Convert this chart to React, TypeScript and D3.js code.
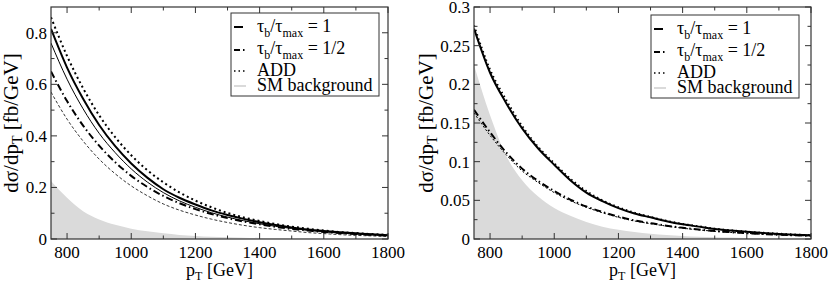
import React from 'react';
import * as d3 from 'd3';

// transverse momentum grid (GeV)
const ptGrid = [750, 800, 850, 900, 950, 1000, 1050, 1100, 1150, 1200, 1250, 1300, 1350, 1400, 1450, 1500, 1550, 1600, 1650, 1700, 1750, 1800];

// left panel, fb/GeV
const leftTau1 = [0.815, 0.665, 0.544, 0.442, 0.36, 0.293, 0.238, 0.193, 0.16, 0.134, 0.111, 0.093, 0.078, 0.065, 0.054, 0.045, 0.037, 0.031, 0.026, 0.022, 0.018, 0.015];
const leftTau1Thin = [0.76, 0.62, 0.505, 0.41, 0.335, 0.272, 0.221, 0.18, 0.148, 0.123, 0.102, 0.085, 0.071, 0.059, 0.049, 0.041, 0.034, 0.028, 0.023, 0.019, 0.016, 0.013];
const leftTauHalf = [0.65, 0.535, 0.44, 0.362, 0.298, 0.245, 0.202, 0.167, 0.139, 0.116, 0.097, 0.081, 0.068, 0.057, 0.047, 0.039, 0.033, 0.027, 0.023, 0.019, 0.016, 0.013];
const leftTauHalfThin = [0.57, 0.465, 0.38, 0.31, 0.253, 0.206, 0.168, 0.136, 0.112, 0.093, 0.077, 0.064, 0.053, 0.044, 0.037, 0.031, 0.025, 0.021, 0.017, 0.014, 0.012, 0.01];
const leftAdd = [0.86, 0.71, 0.585, 0.48, 0.395, 0.325, 0.267, 0.22, 0.181, 0.149, 0.123, 0.101, 0.084, 0.07, 0.058, 0.048, 0.04, 0.033, 0.027, 0.023, 0.019, 0.016];

// right panel, fb/GeV
const rightTau1 = [0.272, 0.215, 0.176, 0.143, 0.117, 0.096, 0.076, 0.06, 0.049, 0.04, 0.033, 0.028, 0.023, 0.019, 0.016, 0.013, 0.011, 0.0093, 0.0078, 0.0066, 0.0056, 0.0047];
const rightAdd = [0.276, 0.219, 0.18, 0.146, 0.119, 0.098, 0.078, 0.062, 0.05, 0.041, 0.034, 0.0285, 0.0235, 0.0195, 0.0164, 0.0134, 0.0113, 0.0095, 0.008, 0.0068, 0.0057, 0.0048];
const rightTauHalf = [0.167, 0.138, 0.112, 0.091, 0.075, 0.062, 0.051, 0.042, 0.035, 0.029, 0.024, 0.0205, 0.0172, 0.0145, 0.0122, 0.0103, 0.0088, 0.0075, 0.0064, 0.0055, 0.0047, 0.004];
const rightTauHalfThin = [0.163, 0.134, 0.109, 0.088, 0.073, 0.06, 0.0495, 0.041, 0.034, 0.028, 0.0233, 0.0198, 0.0167, 0.014, 0.0118, 0.01, 0.0085, 0.0073, 0.0062, 0.0053, 0.0045, 0.0039];

// SM background (same in both panels)
const smBackground = [0.225, 0.16, 0.108, 0.076, 0.055, 0.04, 0.03, 0.022, 0.016, 0.012, 0.009, 0.0068, 0.0052, 0.004, 0.003, 0.0024, 0.0018, 0.0014, 0.001, 0.0008, 0.0006, 0.0005];

const xTicks = [800, 1000, 1200, 1400, 1600, 1800];
const xMinor = [900, 1100, 1300, 1500, 1700];
const leftYTicks = [0, 0.2, 0.4, 0.6, 0.8];
const leftYMinor = [0.1, 0.3, 0.5, 0.7];
const rightYTicks = [0, 0.05, 0.1, 0.15, 0.2, 0.25, 0.3];
const rightYMinor = [0.025, 0.075, 0.125, 0.175, 0.225, 0.275];

const FONT = '"Liberation Serif", "DejaVu Serif", serif';

const Panel = ({ idx, left, yMax, yTicks, yMinor, curves, legendX, legendY, yLabelX }) => {
  const top = 7, bottom = 239, right = left + 337;
  const x = d3.scaleLinear().domain([750, 1800]).range([left, right]);
  const y = d3.scaleLinear().domain([0, yMax]).range([bottom, top]);

  const line = d3.line<number>()
    .x((d, i) => x(ptGrid[i]))
    .y(d => y(d))
    .curve(d3.curveMonotoneX);
  const area = d3.area<number>()
    .x((d, i) => x(ptGrid[i]))
    .y0(bottom)
    .y1(d => y(d))
    .curve(d3.curveMonotoneX);

  const clipId = `clip${idx}`;
  const ax = '#333';

  return (
    <g>
      <defs>
        <clipPath id={clipId}>
          <rect x={left} y={top} width={right - left} height={bottom - top} />
        </clipPath>
      </defs>
      <g clipPath={`url(#${clipId})`}>
        <path d={area(smBackground)} fill="#dadada" />
        {curves.map((c, i) => (
          <path key={i} d={line(c.values)} fill="none" stroke="#000"
            strokeWidth={c.width} strokeDasharray={c.dash} />
        ))}
      </g>

      {/* ticks point inward on all four sides */}
      {xTicks.map(t => (
        <g key={'xt' + t}>
          <line x1={x(t)} x2={x(t)} y1={bottom} y2={bottom - 6} stroke={ax} />
          <line x1={x(t)} x2={x(t)} y1={top} y2={top + 6} stroke={ax} />
          <text x={x(t)} y={258} textAnchor="middle" fontSize={17} fontFamily={FONT}>{t}</text>
        </g>
      ))}
      {xMinor.map(t => (
        <g key={'xm' + t}>
          <line x1={x(t)} x2={x(t)} y1={bottom} y2={bottom - 3.5} stroke={ax} />
          <line x1={x(t)} x2={x(t)} y1={top} y2={top + 3.5} stroke={ax} />
        </g>
      ))}
      {yTicks.map(t => (
        <g key={'yt' + t}>
          <line x1={left} x2={left + 6} y1={y(t)} y2={y(t)} stroke={ax} />
          <line x1={right} x2={right - 6} y1={y(t)} y2={y(t)} stroke={ax} />
          <text x={left - 4} y={y(t) + 6} textAnchor="end" fontSize={17} fontFamily={FONT}>{+t.toFixed(3)}</text>
        </g>
      ))}
      {yMinor.map(t => (
        <g key={'ym' + t}>
          <line x1={left} x2={left + 3.5} y1={y(t)} y2={y(t)} stroke={ax} />
          <line x1={right} x2={right - 3.5} y1={y(t)} y2={y(t)} stroke={ax} />
        </g>
      ))}
      <rect x={left} y={top} width={right - left} height={bottom - top} fill="none" stroke={ax} strokeWidth={1.2} />

      {/* axis titles */}
      <text x={(left + right) / 2} y={276} textAnchor="middle" fontSize={18} fontFamily={FONT}>
        p<tspan fontSize={12} dy={4}>T</tspan><tspan dy={-4}> [GeV]</tspan>
      </text>
      <text transform={`translate(${yLabelX},${(top + bottom) / 2}) rotate(-90)`} textAnchor="middle"
        fontSize={21} fontFamily={FONT}>
        dσ/dp<tspan fontSize={14} dy={4}>T</tspan><tspan dy={-4}> [fb/GeV]</tspan>
      </text>

      {/* legend */}
      <g transform={`translate(${legendX},${legendY})`} fontFamily={FONT} fontSize={18}>
        <rect x={0} y={0} width={148} height={83} fill="#fff" stroke={ax} strokeWidth={1} />
        <line x1={3} x2={12} y1={14} y2={14} stroke="#000" strokeWidth={2} />
        <text x={26} y={19}>τ<tspan fontSize={12} dy={5}>b</tspan><tspan dy={-5}>/τ</tspan><tspan fontSize={12} dy={5}>max</tspan><tspan dy={-5}> = 1</tspan></text>
        <line x1={3} x2={15} y1={37} y2={37} stroke="#000" strokeWidth={2} strokeDasharray="6,3,1.5,3" />
        <text x={26} y={41}>τ<tspan fontSize={12} dy={5}>b</tspan><tspan dy={-5}>/τ</tspan><tspan fontSize={12} dy={5}>max</tspan><tspan dy={-5}> = 1/2</tspan></text>
        <line x1={3} x2={15} y1={58} y2={58} stroke="#000" strokeWidth={1.5} strokeDasharray="1.5,3" />
        <text x={26} y={63}>ADD</text>
        <line x1={3} x2={15} y1={73} y2={73} stroke="#dadada" strokeWidth={2} />
        <text x={26} y={78}>SM background</text>
      </g>
    </g>
  );
};

export default function App() {
  const leftCurves = [
    { values: leftTau1Thin, width: 1, dash: null },
    { values: leftTauHalfThin, width: 0.8, dash: '3,2' },
    { values: leftTauHalf, width: 2, dash: '7,3,1.5,3' },
    { values: leftTau1, width: 2, dash: null },
    { values: leftAdd, width: 2, dash: '2,3' },
  ];
  const rightCurves = [
    { values: rightTauHalfThin, width: 1, dash: '2,2' },
    { values: rightTauHalf, width: 2, dash: '7,3,1.5,3' },
    { values: rightTau1, width: 2, dash: null },
    { values: rightAdd, width: 2, dash: '1.5,3' },
  ];
  return (
    <svg width={830} height={287} style={{ position: 'absolute', left: 0, top: 0, background: '#fff' }}>
      <Panel idx={0} left={51} yMax={0.9} yTicks={leftYTicks} yMinor={leftYMinor}
        curves={leftCurves} legendX={231} legendY={13} yLabelX={18} />
      <Panel idx={1} left={474} yMax={0.3} yTicks={rightYTicks} yMinor={rightYMinor}
        curves={rightCurves} legendX={651} legendY={15} yLabelX={433} />
    </svg>
  );
}
